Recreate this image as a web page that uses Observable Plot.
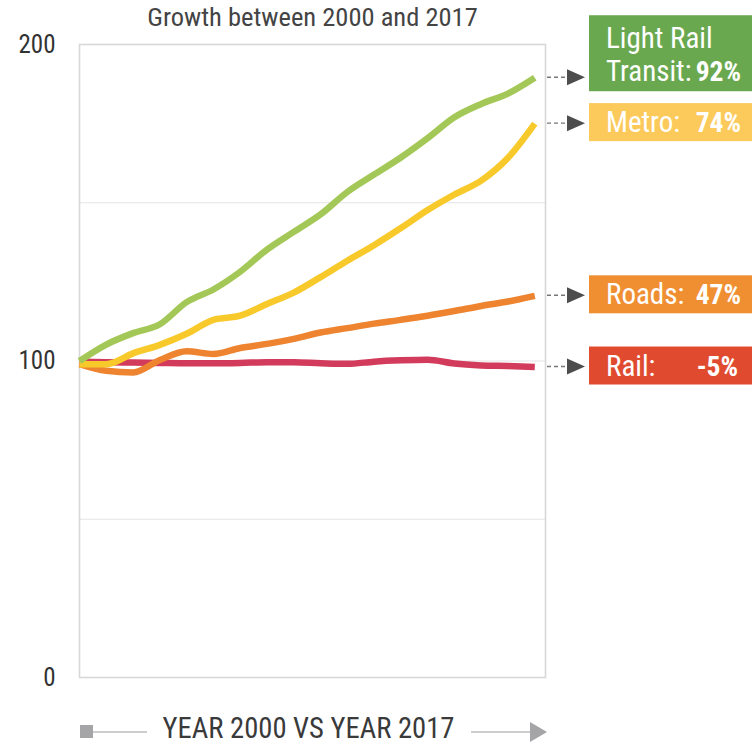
<!DOCTYPE html>
<html>
<head>
<meta charset="utf-8">
<script src="https://cdn.jsdelivr.net/npm/d3@7"></script>
<script src="https://cdn.jsdelivr.net/npm/@observablehq/plot@0.6"></script>
<style>
  html, body { margin: 0; padding: 0; background: #fff; }
  #chart { width: 755px; height: 744px; }
</style>
</head>
<body>
<div id="chart"></div>
<script>
// ---- data ----
const years = [2000, 2001, 2002, 2003, 2004, 2005, 2006, 2007, 2008, 2009, 2010, 2011, 2012, 2013, 2014, 2015, 2016, 2017];
const lightRail = [100, 105.2, 108.8, 111.6, 118.6, 122.6, 128.2, 135.2, 140.8, 146.3, 153.4, 158.9, 164.3, 170.4, 177.0, 181.2, 184.5, 189.5];
const metro = [99, 99.0, 102.4, 105.1, 108.6, 113.0, 114.3, 118.0, 121.6, 126.5, 131.7, 136.6, 142.0, 147.7, 152.6, 157.0, 164.2, 175.0];
const roads = [99, 96.9, 96.4, 100.3, 103.1, 102.2, 104.1, 105.4, 107.0, 109.0, 110.4, 111.8, 113.0, 114.3, 115.8, 117.4, 118.8, 120.6];
const rail = [99.8, 99.6, 99.5, 99.4, 99.3, 99.3, 99.4, 99.6, 99.6, 99.3, 99.1, 99.8, 100.2, 100.4, 99.2, 98.6, 98.4, 98.1];

const seriesNames = ["Rail", "Roads", "Metro", "Light Rail Transit"];
const seriesValues = [rail, roads, metro, lightRail];
const lineColors = ["#d23b5b", "#ee842f", "#f8c92b", "#a4c858"];

const labelNames = ["Light Rail Transit", "Metro", "Roads", "Rail"];
const labelLines = [["Light Rail", "Transit:"], ["Metro:"], ["Roads:"], ["Rail:"]];
const labelPercents = ["92%", "74%", "47%", "-5%"];
const labelColors = ["#6aa84f", "#fcc95b", "#ef8f32", "#e04b30"];

const yTicks = [0, 100, 200];
const yGrid = [50, 100, 150];
const titleText = "Growth between 2000 and 2017";
const bottomText = "YEAR 2000 VS YEAR 2017";

// ---- build table ----
const rows = [];
seriesNames.forEach((name, i) => {
  years.forEach((yr, j) => rows.push({series: name, year: yr, value: seriesValues[i][j]}));
});

const FONT = "'Liberation Sans Narrow', 'Roboto Condensed', 'Arial Narrow', 'Liberation Sans', sans-serif";

const plot = Plot.plot({
  width: 755,
  height: 744,
  marginLeft: 79,
  marginRight: 210,
  marginTop: 44,
  marginBottom: 67,
  style: {fontFamily: FONT, background: "#fff", overflow: "visible"},
  x: {domain: [2000, 2017.4], axis: null},
  y: {domain: [0, 200], axis: null},
  color: {domain: seriesNames, range: lineColors},
  marks: [
    Plot.gridY(yGrid, {stroke: "#e4e4e4", strokeOpacity: 1, strokeWidth: 1.2}),
    Plot.frame({stroke: "#d8d8d8", strokeWidth: 1.6}),
    Plot.axisY(yTicks, {tickSize: 0, tickPadding: 24, fontSize: 25, fill: "#333", label: null}),
    Plot.line(rows, {x: "year", y: "value", z: "series", stroke: "series", strokeWidth: 6.5, curve: "monotone-x", strokeLinecap: "butt"}),
    Plot.text([titleText], {frameAnchor: "top", dy: -27, fontSize: 26.5, fill: "#444", lineAnchor: "middle"}),
    Plot.text([bottomText], {frameAnchor: "bottom", dx: -4, dy: 51.5, fontSize: 28.6, fill: "#3a3a3a", lineAnchor: "middle"})
  ]
});

document.getElementById("chart").appendChild(plot);

// ---- annotations placed through the plot's scales ----
const sx = plot.scale("x"), sy = plot.scale("y");
const svg = d3.select(plot);
const xEnd = sx.apply(2017.4);   // right edge of frame
const yBottom = sy.apply(0);

const g = svg.append("g").attr("font-family", FONT).attr("text-anchor", "start");
labelNames.forEach((name, i) => {
  const idx = seriesNames.indexOf(name);
  const endVal = seriesValues[idx][seriesValues[idx].length - 1];
  const ay = sy.apply(endVal);
  // dashed leader + arrowhead
  g.append("line").attr("x1", xEnd + 2).attr("x2", xEnd + 22).attr("y1", ay).attr("y2", ay)
    .attr("stroke", "#777").attr("stroke-width", 1.4).attr("stroke-dasharray", "4,3");
  g.append("path").attr("d", `M${xEnd + 22},${ay - 8}L${xEnd + 40},${ay}L${xEnd + 22},${ay + 8}Z`).attr("fill", "#4d4d4d");
  const lines = labelLines[i];
  const two = lines.length > 1;
  const top = two ? ay - 62 : ay - 20;
  const h = two ? 76 : 38;
  const bx = xEnd + 44;
  g.append("rect").attr("x", bx).attr("y", top).attr("width", 163).attr("height", h).attr("fill", labelColors[i]);
  lines.forEach((t, k) => {
    const base = two ? (k === 0 ? ay - 29 : ay + 4) : ay + 9;
    g.append("text").attr("x", bx + 17).attr("y", base).attr("fill", "#fff").attr("font-size", 29)
      .attr("text-anchor", "start").text(t);
  });
  const base = two ? ay + 4 : ay + 9;
  g.append("text").attr("x", bx + 152 - (name === "Rail" ? 3 : 0)).attr("y", base).attr("fill", "#fff")
    .attr("font-size", 27.5).attr("font-weight", "bold").attr("text-anchor", "end").text(labelPercents[i]);
});

// bottom decoration: square, leader lines, arrow
const x0 = sx.apply(2000);
const by = yBottom + 55;
const b = svg.append("g");
b.append("rect").attr("x", x0 + 1).attr("y", by - 7).attr("width", 13).attr("height", 13).attr("fill", "#a5a5a8");
b.append("line").attr("x1", x0 + 14).attr("x2", x0 + 68).attr("y1", by).attr("y2", by).attr("stroke", "#bdbdbf").attr("stroke-width", 1.5);
b.append("line").attr("x1", xEnd - 74).attr("x2", xEnd - 14).attr("y1", by).attr("y2", by).attr("stroke", "#bdbdbf").attr("stroke-width", 1.5);
b.append("path").attr("d", `M${xEnd - 15},${by - 10}L${xEnd + 2},${by}L${xEnd - 15},${by + 10}Z`).attr("fill", "#a5a5a8");
</script>
</body>
</html>
